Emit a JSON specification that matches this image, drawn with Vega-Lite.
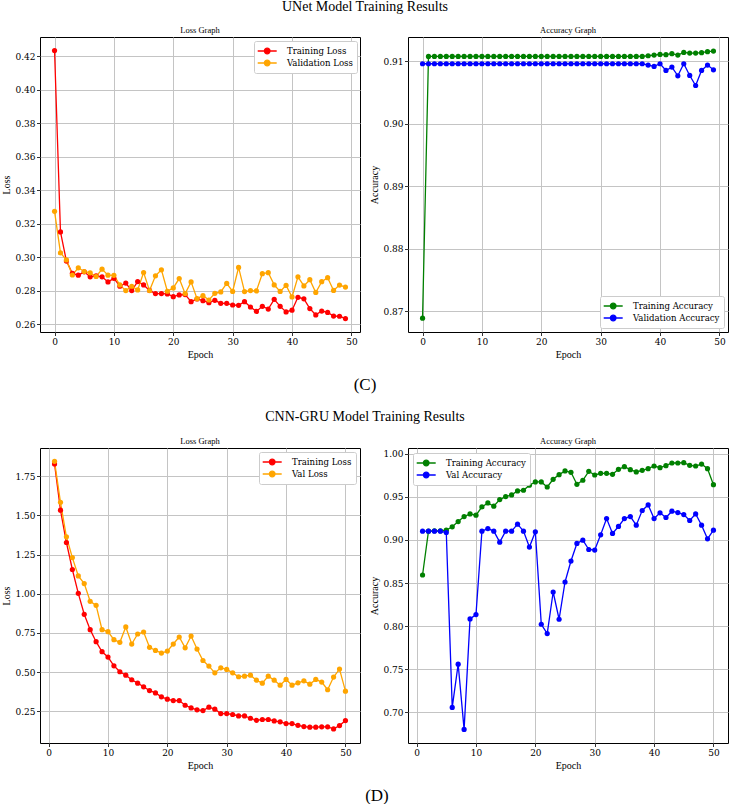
{
  "$schema": "https://vega.github.io/schema/vega-lite/v6.json",
  "padding": {"left": 1, "top": 0, "right": 0, "bottom": 0},
  "background": "white",
  "datasets": {
    "unet": [
      {"epoch": 0, "Training Loss": 0.4234, "Validation Loss": 0.3275, "Training Accuracy": 0.8689, "Validation Accuracy": 0.90957},
      {"epoch": 1, "Training Loss": 0.3152, "Validation Loss": 0.3027, "Training Accuracy": 0.91075, "Validation Accuracy": 0.90957},
      {"epoch": 2, "Training Loss": 0.2978, "Validation Loss": 0.2985, "Training Accuracy": 0.91075, "Validation Accuracy": 0.90957},
      {"epoch": 3, "Training Loss": 0.2905, "Validation Loss": 0.2895, "Training Accuracy": 0.91075, "Validation Accuracy": 0.90957},
      {"epoch": 4, "Training Loss": 0.2894, "Validation Loss": 0.2938, "Training Accuracy": 0.91075, "Validation Accuracy": 0.90957},
      {"epoch": 5, "Training Loss": 0.2914, "Validation Loss": 0.2916, "Training Accuracy": 0.91075, "Validation Accuracy": 0.90957},
      {"epoch": 6, "Training Loss": 0.2884, "Validation Loss": 0.2908, "Training Accuracy": 0.91075, "Validation Accuracy": 0.90957},
      {"epoch": 7, "Training Loss": 0.2890, "Validation Loss": 0.2886, "Training Accuracy": 0.91075, "Validation Accuracy": 0.90957},
      {"epoch": 8, "Training Loss": 0.2884, "Validation Loss": 0.2930, "Training Accuracy": 0.91075, "Validation Accuracy": 0.90957},
      {"epoch": 9, "Training Loss": 0.2854, "Validation Loss": 0.2894, "Training Accuracy": 0.91075, "Validation Accuracy": 0.90957},
      {"epoch": 10, "Training Loss": 0.2875, "Validation Loss": 0.2893, "Training Accuracy": 0.91075, "Validation Accuracy": 0.90957},
      {"epoch": 11, "Training Loss": 0.2828, "Validation Loss": 0.2836, "Training Accuracy": 0.91075, "Validation Accuracy": 0.90957},
      {"epoch": 12, "Training Loss": 0.2847, "Validation Loss": 0.2802, "Training Accuracy": 0.91075, "Validation Accuracy": 0.90957},
      {"epoch": 13, "Training Loss": 0.2802, "Validation Loss": 0.2828, "Training Accuracy": 0.91075, "Validation Accuracy": 0.90957},
      {"epoch": 14, "Training Loss": 0.2856, "Validation Loss": 0.2806, "Training Accuracy": 0.91075, "Validation Accuracy": 0.90957},
      {"epoch": 15, "Training Loss": 0.2836, "Validation Loss": 0.2910, "Training Accuracy": 0.91075, "Validation Accuracy": 0.90957},
      {"epoch": 16, "Training Loss": 0.2803, "Validation Loss": 0.2802, "Training Accuracy": 0.91075, "Validation Accuracy": 0.90957},
      {"epoch": 17, "Training Loss": 0.2784, "Validation Loss": 0.2890, "Training Accuracy": 0.91075, "Validation Accuracy": 0.90957},
      {"epoch": 18, "Training Loss": 0.2784, "Validation Loss": 0.2926, "Training Accuracy": 0.91075, "Validation Accuracy": 0.90957},
      {"epoch": 19, "Training Loss": 0.2782, "Validation Loss": 0.2798, "Training Accuracy": 0.91075, "Validation Accuracy": 0.90957},
      {"epoch": 20, "Training Loss": 0.2766, "Validation Loss": 0.2818, "Training Accuracy": 0.91075, "Validation Accuracy": 0.90957},
      {"epoch": 21, "Training Loss": 0.2776, "Validation Loss": 0.2874, "Training Accuracy": 0.91075, "Validation Accuracy": 0.90957},
      {"epoch": 22, "Training Loss": 0.2778, "Validation Loss": 0.2784, "Training Accuracy": 0.91075, "Validation Accuracy": 0.90957},
      {"epoch": 23, "Training Loss": 0.2736, "Validation Loss": 0.2854, "Training Accuracy": 0.91075, "Validation Accuracy": 0.90957},
      {"epoch": 24, "Training Loss": 0.2752, "Validation Loss": 0.2754, "Training Accuracy": 0.91075, "Validation Accuracy": 0.90957},
      {"epoch": 25, "Training Loss": 0.2742, "Validation Loss": 0.2772, "Training Accuracy": 0.91075, "Validation Accuracy": 0.90957},
      {"epoch": 26, "Training Loss": 0.2730, "Validation Loss": 0.2746, "Training Accuracy": 0.91075, "Validation Accuracy": 0.90957},
      {"epoch": 27, "Training Loss": 0.2744, "Validation Loss": 0.2786, "Training Accuracy": 0.91075, "Validation Accuracy": 0.90957},
      {"epoch": 28, "Training Loss": 0.2726, "Validation Loss": 0.2794, "Training Accuracy": 0.91075, "Validation Accuracy": 0.90957},
      {"epoch": 29, "Training Loss": 0.2726, "Validation Loss": 0.2845, "Training Accuracy": 0.91075, "Validation Accuracy": 0.90957},
      {"epoch": 30, "Training Loss": 0.2716, "Validation Loss": 0.2797, "Training Accuracy": 0.91075, "Validation Accuracy": 0.90957},
      {"epoch": 31, "Training Loss": 0.2714, "Validation Loss": 0.2940, "Training Accuracy": 0.91075, "Validation Accuracy": 0.90957},
      {"epoch": 32, "Training Loss": 0.2736, "Validation Loss": 0.2796, "Training Accuracy": 0.91075, "Validation Accuracy": 0.90957},
      {"epoch": 33, "Training Loss": 0.2704, "Validation Loss": 0.2802, "Training Accuracy": 0.91075, "Validation Accuracy": 0.90957},
      {"epoch": 34, "Training Loss": 0.2678, "Validation Loss": 0.2800, "Training Accuracy": 0.91075, "Validation Accuracy": 0.90957},
      {"epoch": 35, "Training Loss": 0.2708, "Validation Loss": 0.2903, "Training Accuracy": 0.91075, "Validation Accuracy": 0.90957},
      {"epoch": 36, "Training Loss": 0.2692, "Validation Loss": 0.2909, "Training Accuracy": 0.91075, "Validation Accuracy": 0.90957},
      {"epoch": 37, "Training Loss": 0.2750, "Validation Loss": 0.2836, "Training Accuracy": 0.91075, "Validation Accuracy": 0.90957},
      {"epoch": 38, "Training Loss": 0.2708, "Validation Loss": 0.2797, "Training Accuracy": 0.91085, "Validation Accuracy": 0.90936},
      {"epoch": 39, "Training Loss": 0.2675, "Validation Loss": 0.2833, "Training Accuracy": 0.91096, "Validation Accuracy": 0.90915},
      {"epoch": 40, "Training Loss": 0.2685, "Validation Loss": 0.2764, "Training Accuracy": 0.91107, "Validation Accuracy": 0.90957},
      {"epoch": 41, "Training Loss": 0.2762, "Validation Loss": 0.2884, "Training Accuracy": 0.91102, "Validation Accuracy": 0.90850},
      {"epoch": 42, "Training Loss": 0.2753, "Validation Loss": 0.2830, "Training Accuracy": 0.91118, "Validation Accuracy": 0.90904},
      {"epoch": 43, "Training Loss": 0.2695, "Validation Loss": 0.2867, "Training Accuracy": 0.91096, "Validation Accuracy": 0.90765},
      {"epoch": 44, "Training Loss": 0.2657, "Validation Loss": 0.2791, "Training Accuracy": 0.91139, "Validation Accuracy": 0.90957},
      {"epoch": 45, "Training Loss": 0.2680, "Validation Loss": 0.2855, "Training Accuracy": 0.91128, "Validation Accuracy": 0.90770},
      {"epoch": 46, "Training Loss": 0.2672, "Validation Loss": 0.2879, "Training Accuracy": 0.91128, "Validation Accuracy": 0.90610},
      {"epoch": 47, "Training Loss": 0.2650, "Validation Loss": 0.2803, "Training Accuracy": 0.91134, "Validation Accuracy": 0.90850},
      {"epoch": 48, "Training Loss": 0.2649, "Validation Loss": 0.2835, "Training Accuracy": 0.91150, "Validation Accuracy": 0.90936},
      {"epoch": 49, "Training Loss": 0.2635, "Validation Loss": 0.2823, "Training Accuracy": 0.91160, "Validation Accuracy": 0.90861}
    ],
    "cnngru": [
      {"epoch": 1, "Training Loss": 1.829, "Val Loss": 1.846, "Training Accuracy": 0.8593, "Val Accuracy": 0.9102},
      {"epoch": 2, "Training Loss": 1.534, "Val Loss": 1.584, "Training Accuracy": 0.9102, "Val Accuracy": 0.9102},
      {"epoch": 3, "Training Loss": 1.3275, "Val Loss": 1.364, "Training Accuracy": 0.9105, "Val Accuracy": 0.9102},
      {"epoch": 4, "Training Loss": 1.155, "Val Loss": 1.231, "Training Accuracy": 0.9105, "Val Accuracy": 0.9102},
      {"epoch": 5, "Training Loss": 1.003, "Val Loss": 1.114, "Training Accuracy": 0.9113, "Val Accuracy": 0.9086},
      {"epoch": 6, "Training Loss": 0.869, "Val Loss": 1.065, "Training Accuracy": 0.9152, "Val Accuracy": 0.7058},
      {"epoch": 7, "Training Loss": 0.771, "Val Loss": 0.952, "Training Accuracy": 0.9213, "Val Accuracy": 0.7559},
      {"epoch": 8, "Training Loss": 0.694, "Val Loss": 0.926, "Training Accuracy": 0.9271, "Val Accuracy": 0.6803},
      {"epoch": 9, "Training Loss": 0.630, "Val Loss": 0.771, "Training Accuracy": 0.9302, "Val Accuracy": 0.8084},
      {"epoch": 10, "Training Loss": 0.596, "Val Loss": 0.758, "Training Accuracy": 0.9287, "Val Accuracy": 0.8134},
      {"epoch": 11, "Training Loss": 0.540, "Val Loss": 0.707, "Training Accuracy": 0.9383, "Val Accuracy": 0.9102},
      {"epoch": 12, "Training Loss": 0.502, "Val Loss": 0.690, "Training Accuracy": 0.9429, "Val Accuracy": 0.9132},
      {"epoch": 13, "Training Loss": 0.480, "Val Loss": 0.788, "Training Accuracy": 0.9391, "Val Accuracy": 0.9102},
      {"epoch": 14, "Training Loss": 0.451, "Val Loss": 0.679, "Training Accuracy": 0.9468, "Val Accuracy": 0.8974},
      {"epoch": 15, "Training Loss": 0.429, "Val Loss": 0.743, "Training Accuracy": 0.9503, "Val Accuracy": 0.9102},
      {"epoch": 16, "Training Loss": 0.406, "Val Loss": 0.756, "Training Accuracy": 0.9522, "Val Accuracy": 0.9102},
      {"epoch": 17, "Training Loss": 0.382, "Val Loss": 0.658, "Training Accuracy": 0.9568, "Val Accuracy": 0.9183},
      {"epoch": 18, "Training Loss": 0.367, "Val Loss": 0.638, "Training Accuracy": 0.9576, "Val Accuracy": 0.9102},
      {"epoch": 19, "Training Loss": 0.342, "Val Loss": 0.621, "Training Accuracy": 0.9634, "Val Accuracy": 0.8917},
      {"epoch": 20, "Training Loss": 0.327, "Val Loss": 0.634, "Training Accuracy": 0.9673, "Val Accuracy": 0.9094},
      {"epoch": 21, "Training Loss": 0.318, "Val Loss": 0.679, "Training Accuracy": 0.9673, "Val Accuracy": 0.8022},
      {"epoch": 22, "Training Loss": 0.318, "Val Loss": 0.724, "Training Accuracy": 0.9614, "Val Accuracy": 0.7914},
      {"epoch": 23, "Training Loss": 0.288, "Val Loss": 0.655, "Training Accuracy": 0.9703, "Val Accuracy": 0.8396},
      {"epoch": 24, "Training Loss": 0.271, "Val Loss": 0.730, "Training Accuracy": 0.9757, "Val Accuracy": 0.8080},
      {"epoch": 25, "Training Loss": 0.259, "Val Loss": 0.647, "Training Accuracy": 0.9800, "Val Accuracy": 0.8512},
      {"epoch": 26, "Training Loss": 0.254, "Val Loss": 0.574, "Training Accuracy": 0.9784, "Val Accuracy": 0.8755},
      {"epoch": 27, "Training Loss": 0.276, "Val Loss": 0.538, "Training Accuracy": 0.9645, "Val Accuracy": 0.8959},
      {"epoch": 28, "Training Loss": 0.263, "Val Loss": 0.495, "Training Accuracy": 0.9692, "Val Accuracy": 0.8997},
      {"epoch": 29, "Training Loss": 0.235, "Val Loss": 0.527, "Training Accuracy": 0.9796, "Val Accuracy": 0.8889},
      {"epoch": 30, "Training Loss": 0.235, "Val Loss": 0.517, "Training Accuracy": 0.9753, "Val Accuracy": 0.8882},
      {"epoch": 31, "Training Loss": 0.229, "Val Loss": 0.495, "Training Accuracy": 0.9772, "Val Accuracy": 0.9059},
      {"epoch": 32, "Training Loss": 0.220, "Val Loss": 0.470, "Training Accuracy": 0.9772, "Val Accuracy": 0.9248},
      {"epoch": 33, "Training Loss": 0.220, "Val Loss": 0.474, "Training Accuracy": 0.9761, "Val Accuracy": 0.9075},
      {"epoch": 34, "Training Loss": 0.205, "Val Loss": 0.480, "Training Accuracy": 0.9819, "Val Accuracy": 0.9156},
      {"epoch": 35, "Training Loss": 0.192, "Val Loss": 0.448, "Training Accuracy": 0.9850, "Val Accuracy": 0.9248},
      {"epoch": 36, "Training Loss": 0.197, "Val Loss": 0.429, "Training Accuracy": 0.9815, "Val Accuracy": 0.9271},
      {"epoch": 37, "Training Loss": 0.197, "Val Loss": 0.474, "Training Accuracy": 0.9788, "Val Accuracy": 0.9171},
      {"epoch": 38, "Training Loss": 0.188, "Val Loss": 0.448, "Training Accuracy": 0.9807, "Val Accuracy": 0.9341},
      {"epoch": 39, "Training Loss": 0.182, "Val Loss": 0.416, "Training Accuracy": 0.9826, "Val Accuracy": 0.9406},
      {"epoch": 40, "Training Loss": 0.171, "Val Loss": 0.453, "Training Accuracy": 0.9857, "Val Accuracy": 0.9248},
      {"epoch": 41, "Training Loss": 0.171, "Val Loss": 0.416, "Training Accuracy": 0.9838, "Val Accuracy": 0.9314},
      {"epoch": 42, "Training Loss": 0.160, "Val Loss": 0.431, "Training Accuracy": 0.9861, "Val Accuracy": 0.9260},
      {"epoch": 43, "Training Loss": 0.152, "Val Loss": 0.444, "Training Accuracy": 0.9892, "Val Accuracy": 0.9333},
      {"epoch": 44, "Training Loss": 0.148, "Val Loss": 0.423, "Training Accuracy": 0.9892, "Val Accuracy": 0.9317},
      {"epoch": 45, "Training Loss": 0.148, "Val Loss": 0.453, "Training Accuracy": 0.9896, "Val Accuracy": 0.9294},
      {"epoch": 46, "Training Loss": 0.150, "Val Loss": 0.436, "Training Accuracy": 0.9865, "Val Accuracy": 0.9225},
      {"epoch": 47, "Training Loss": 0.150, "Val Loss": 0.387, "Training Accuracy": 0.9857, "Val Accuracy": 0.9302},
      {"epoch": 48, "Training Loss": 0.137, "Val Loss": 0.468, "Training Accuracy": 0.9880, "Val Accuracy": 0.9171},
      {"epoch": 49, "Training Loss": 0.158, "Val Loss": 0.519, "Training Accuracy": 0.9826, "Val Accuracy": 0.9013},
      {"epoch": 50, "Training Loss": 0.190, "Val Loss": 0.378, "Training Accuracy": 0.9641, "Val Accuracy": 0.9113}
    ]
  },
  "title": {"text": "(D)", "orient": "bottom", "fontSize": 17, "dx": 12, "offset": 17},
  "spacing": 15,
  "resolve": {"scale": {"color": "independent"}},
  "vconcat": [
    {
      "title": {"text": "UNet Model Training Results", "fontSize": 14, "offset": 11},
      "bounds": "flush",
      "spacing": 48,
      "resolve": {"scale": {"color": "independent"}},
      "hconcat": [
        {
          "title": "Loss Graph",
          "width": 320, "height": 295,
          "data": {"name": "unet"},
          "transform": [{"fold": ["Training Loss", "Validation Loss"], "as": ["series", "value"]}],
          "encoding": {
            "x": {"field": "epoch", "type": "quantitative", "scale": {"domain": [-2.45, 51.45], "nice": false, "zero": false}, "axis": {"title": "Epoch", "values": [0, 10, 20, 30, 40, 50]}},
            "y": {"field": "value", "type": "quantitative", "scale": {"domain": [0.2555, 0.4315], "nice": false, "zero": false}, "axis": {"title": "Loss", "values": [0.26, 0.28, 0.30, 0.32, 0.34, 0.36, 0.38, 0.40, 0.42], "format": ".2f"}},
            "color": {"field": "series", "type": "nominal", "scale": {"domain": ["Training Loss", "Validation Loss"], "range": ["#ff0000", "#ffa500"]}, "legend": {"title": null, "orient": "top-right", "offset": 3.5}}
          },
          "layer": [
            {"mark": {"type": "line", "strokeWidth": 1.3}},
            {"mark": {"type": "circle", "size": 27, "opacity": 1}, "encoding": {"order": {"field": "series"}}}
          ]
        },
        {
          "title": "Accuracy Graph",
          "width": 320, "height": 295,
          "data": {"name": "unet"},
          "transform": [{"fold": ["Training Accuracy", "Validation Accuracy"], "as": ["series", "value"]}],
          "encoding": {
            "x": {"field": "epoch", "type": "quantitative", "scale": {"domain": [-2.45, 51.45], "nice": false, "zero": false}, "axis": {"title": "Epoch", "values": [0, 10, 20, 30, 40, 50]}},
            "y": {"field": "value", "type": "quantitative", "scale": {"domain": [0.86669, 0.91385], "nice": false, "zero": false}, "axis": {"title": "Accuracy", "values": [0.87, 0.88, 0.89, 0.90, 0.91], "format": ".2f"}},
            "color": {"field": "series", "type": "nominal", "scale": {"domain": ["Training Accuracy", "Validation Accuracy"], "range": ["#008000", "#0000ff"]}, "legend": {"title": null, "orient": "bottom-right", "offset": 4.5}}
          },
          "layer": [
            {"mark": {"type": "line", "strokeWidth": 1.3}},
            {"mark": {"type": "circle", "size": 27, "opacity": 1}, "encoding": {"order": {"field": "series"}}}
          ]
        }
      ]
    },
    {
      "title": {"text": "(C)", "fontSize": 17, "subtitle": "CNN-GRU Model Training Results", "subtitleFontSize": 14, "subtitlePadding": 16.5, "offset": 11},
      "bounds": "flush",
      "spacing": 48,
      "resolve": {"scale": {"color": "independent"}},
      "hconcat": [
        {
          "title": "Loss Graph",
          "width": 320, "height": 295,
          "data": {"name": "cnngru"},
          "transform": [{"fold": ["Training Loss", "Val Loss"], "as": ["series", "value"]}],
          "encoding": {
            "x": {"field": "epoch", "type": "quantitative", "scale": {"domain": [-1.45, 52.45], "nice": false, "zero": false}, "axis": {"title": "Epoch", "values": [0, 10, 20, 30, 40, 50]}},
            "y": {"field": "value", "type": "quantitative", "scale": {"domain": [0.047, 1.931], "nice": false, "zero": false}, "axis": {"title": "Loss", "values": [0.25, 0.5, 0.75, 1.0, 1.25, 1.5, 1.75], "format": ".2f"}},
            "color": {"field": "series", "type": "nominal", "scale": {"domain": ["Training Loss", "Val Loss"], "range": ["#ff0000", "#ffa500"]}, "legend": {"title": null, "orient": "top-right", "offset": 4}}
          },
          "layer": [
            {"mark": {"type": "line", "strokeWidth": 1.3}},
            {"mark": {"type": "circle", "size": 27, "opacity": 1}, "encoding": {"order": {"field": "series"}}}
          ]
        },
        {
          "title": "Accuracy Graph",
          "width": 320, "height": 295,
          "data": {"name": "cnngru"},
          "transform": [{"fold": ["Training Accuracy", "Val Accuracy"], "as": ["series", "value"]}],
          "encoding": {
            "x": {"field": "epoch", "type": "quantitative", "scale": {"domain": [-1.45, 52.45], "nice": false, "zero": false}, "axis": {"title": "Epoch", "values": [0, 10, 20, 30, 40, 50]}},
            "y": {"field": "value", "type": "quantitative", "scale": {"domain": [0.6645, 1.0066], "nice": false, "zero": false}, "axis": {"title": "Accuracy", "values": [0.70, 0.75, 0.80, 0.85, 0.90, 0.95, 1.00], "format": ".2f"}},
            "color": {"field": "series", "type": "nominal", "scale": {"domain": ["Training Accuracy", "Val Accuracy"], "range": ["#008000", "#0000ff"]}, "legend": {"title": null, "orient": "top-left", "offset": 4.5}}
          },
          "layer": [
            {"mark": {"type": "line", "strokeWidth": 1.3}},
            {"mark": {"type": "circle", "size": 27, "opacity": 1}, "encoding": {"order": {"field": "series"}}}
          ]
        }
      ]
    }
  ],
  "config": {
    "view": {"stroke": "#000000", "strokeWidth": 1},
    "title": {"font": "Liberation Serif", "fontWeight": "normal", "fontSize": 8.5, "color": "#000000", "offset": 3, "anchor": "middle", "subtitleFont": "Liberation Serif", "subtitleColor": "#000000"},
    "axis": {
      "domain": false,
      "grid": true,
      "gridColor": "#c4c4c4",
      "gridWidth": 1,
      "tickColor": "#000000",
      "tickSize": 3.5,
      "tickWidth": 0.8,
      "labelFont": "DejaVu Serif",
      "labelFontSize": 9,
      "labelColor": "#000000",
      "labelPadding": 1.5,
      "titleFont": "Liberation Serif",
      "titleFontSize": 10,
      "titleFontWeight": "normal",
      "titleColor": "#000000",
      "titlePadding": 3
    },
    "legend": {
      "labelFont": "DejaVu Serif",
      "labelFontSize": 8.6,
      "labelColor": "#000000",
      "fillColor": "#ffffff",
      "strokeColor": "#cccccc",
      "cornerRadius": 2,
      "padding": 4,
      "rowPadding": -1,
      "symbolType": "M-1.9,0L1.9,0M-0.56,0A0.56,0.56,0,1,0,0.56,0A0.56,0.56,0,1,0,-0.56,0Z",
      "symbolSize": 100,
      "symbolStrokeWidth": 1.3,
      "symbolOffset": 3.2,
      "labelOffset": 13.7
    }
  }
}
